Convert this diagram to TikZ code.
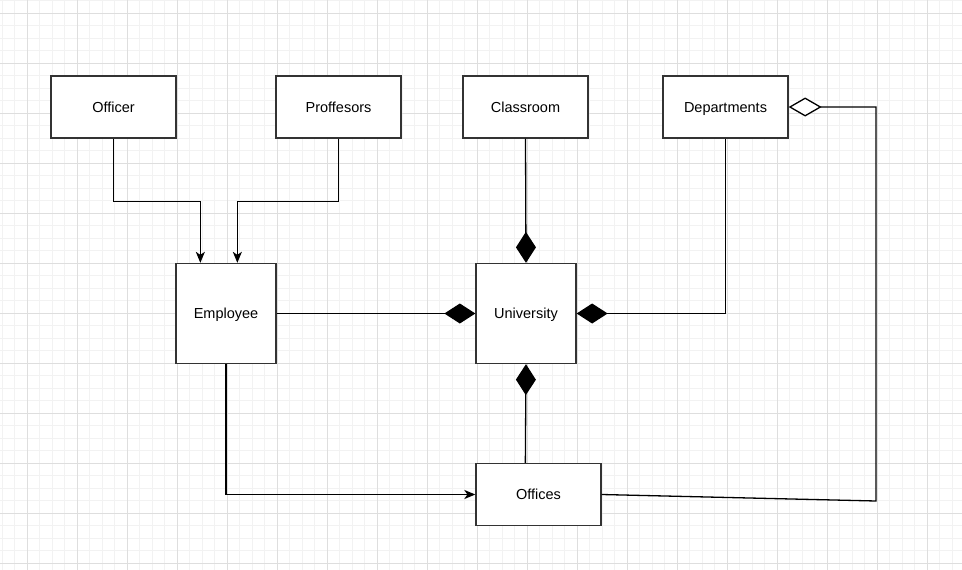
\documentclass[tikz,border=0pt]{standalone}
\usepackage{fontspec}
\setmainfont{Liberation Sans}
\usetikzlibrary{arrows.meta}
\begin{document}
\begin{tikzpicture}[x=1pt,y=-1pt,
  box/.style={draw=black!80, line width=1.3pt, fill=white, inner sep=0pt,
    font=\fontsize{14.5}{16}\selectfont, text height=10.4pt, text depth=0pt},
  wbox/.style={box, minimum width=125pt, minimum height=62pt},
  sbox/.style={box, minimum width=100pt, minimum height=100pt},
  conn/.style={draw=black, line width=1.3pt},
  arr/.style={conn, -{Stealth[length=11pt,width=9pt,inset=3pt]}},
  comp/.style={conn, -{Diamond[length=31pt,width=20pt,fill=black]}},
  aggr/.style={conn, -{Diamond[length=33pt,width=19pt,fill=white]}},
  minorg/.style={draw=black!5, line width=0.6pt},
  majorg/.style={draw=black!13, line width=0.6pt}]
\useasboundingbox (0,0) rectangle (962,570);
\fill[white] (0,0) rectangle (962,570);
\foreach \x in {2,14.5,...,962} \draw[minorg] (\x,0) -- (\x,570);
\foreach \y in {0.5,13,...,570} \draw[minorg] (0,\y) -- (962,\y);
\foreach \x in {27,77,...,962} \draw[majorg] (\x,0) -- (\x,570);
\foreach \y in {13,63,...,570} \draw[majorg] (0,\y) -- (962,\y);

\node[wbox] (officer) at (113.5,107) {Officer};
\node[wbox] (prof) at (338.5,107) {Proffesors};
\node[wbox] (class) at (525.5,107) {Classroom};
\node[wbox] (dept) at (725.5,107) {Departments};
\node[sbox] (emp) at (226,313.5) {Employee};
\node[sbox] (univ) at (526,313.5) {University};
\node[wbox] (offices) at (538.5,494.5) {Offices};
\coordinate (c1) at (876,501);

\draw[arr] (officer.south) -- ++(0,63) -| ([xshift=25pt]emp.north west);
\draw[arr] (prof.south) -- ++(0,63) -| ([xshift=62pt]emp.north west);
\draw[comp] (class.south) -- (univ.north);
\draw[comp] (emp.east) -- (univ.west);
\draw[comp] (dept.south) |- (univ.east);
\draw[comp] ([xshift=50pt]offices.north west) -- (univ.south);
\draw[arr] (emp.south) |- (offices.west);
\draw[aggr] (offices.east) -- (c1) |- (dept.east);
\end{tikzpicture}
\end{document}
